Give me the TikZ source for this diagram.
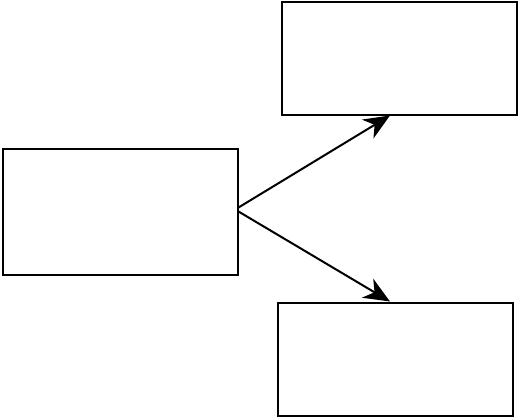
\documentclass[tikz,border=0pt]{standalone}
\usetikzlibrary{arrows.meta,positioning}

\begin{document}
\begin{tikzpicture}[x=1pt,y=-1pt,
  box/.style={draw,line width=2pt,minimum width=235pt,minimum height=113pt,inner sep=0pt},
  link/.style={-{Stealth[length=26pt,width=22pt,inset=8pt]},line width=2pt}]

\useasboundingbox (0,0) rectangle (518,418);

\node[box,minimum height=126pt] (src) at (120,211.5) {};
\node[box] (up) at (399,58) {};
\node[box] (down) at (395,359) {};

\draw[link] ([yshift=4pt]src.east) -- ([xshift=-9pt]up.south);
\draw[link] (src.east) -- ([xshift=-5pt]down.north);

\end{tikzpicture}
\end{document}
